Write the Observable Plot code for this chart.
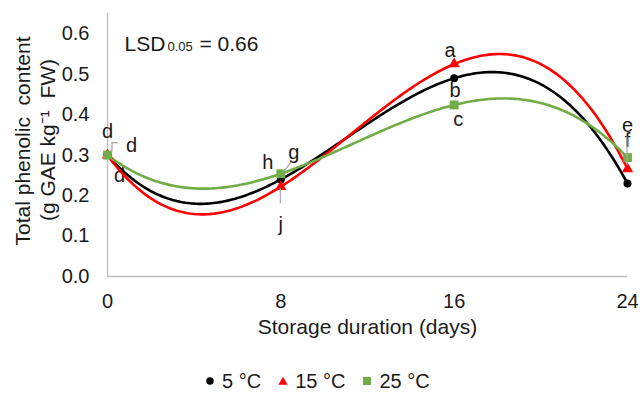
<!DOCTYPE html>
<html>
<head>
<meta charset="utf-8">
<script src="https://cdn.jsdelivr.net/npm/d3@7"></script>
<script src="https://cdn.jsdelivr.net/npm/@observablehq/plot@0.6"></script>
<style>
  html, body { margin: 0; padding: 0; background: #fff; }
  #wrap { position: relative; width: 641px; height: 394px; overflow: hidden; font-family: "Liberation Sans", Arial, sans-serif; color: #1a1a1a; }
  #legend { position: absolute; left: 205px; top: 369px; height: 24px; line-height: 24px; display: flex; align-items: center; font-size: 20px; white-space: nowrap; }
  #legend .item { display: flex; align-items: center; }
  #legend .item + .item { margin-left: 17px; }
  #legend svg { margin-right: 7px; display: block; }
</style>
</head>
<body>
<div id="wrap">
  <div id="chart"></div>
  <div id="legend"></div>
</div>
<script>
// ---- data ----
const days = [0, 8, 16, 24];
const seriesNames = ["5 °C", "15 °C", "25 °C"];
const v5 = [0.30, 0.24, 0.49, 0.23];
const v15 = [0.30, 0.222, 0.525, 0.266];
const v25 = [0.30, 0.254, 0.424, 0.294];
const letters5 = ["d", "g", "b", ""];
const letters15 = ["d", "j", "a", "f"];
const letters25 = ["d", "h", "c", "e"];
const yTicks = [0, 0.1, 0.2, 0.3, 0.4, 0.5, 0.6];
const lsdText = ["LSD", "0.05", "= 0.66"];
const yTitle = ["Total phenolic\u00a0 content", "(g GAE kg⁻¹\u00a0 FW)"];
const xTitle = "Storage duration (days)";

// ---- style / layout config ----
const colors = ["#000000", "#ff0000", "#70ad47"];
const symbols = ["circle", "triangle", "square"];
const radii = [4, 4.2, 5];
const labelOffsets = [
  [[24, -10], [13, -27], [1, 12], [0, 0]],
  [[12, 20], [0, 38], [-4, -13], [0, -28]],
  [[0, -24], [-13, -11], [4, 15], [0, -32]]
];
const leaders = [
  {s: 0, i: 0, pts: [[11, -12], [5, -12], [5, -3]]},
  {s: 0, i: 1, pts: [[11, -17], [3, -7]]},
  {s: 1, i: 1, pts: [[0, 17], [0, 2]]},
  {s: 1, i: 3, pts: [[0, -32], [0, -3]]}
];

const values = [v5, v15, v25];
const letters = [letters5, letters15, letters25];
const rows = values.map((vals, s) => days.map((d, i) => ({day: d, value: vals[i], series: seriesNames[s], label: letters[s][i]})));

// cubic polynomial trendline (Excel-style, order 3) drawn as a custom curve
function curvePoly(context) {
  let xs, ys;
  return {
    areaStart() {}, areaEnd() {},
    lineStart() { xs = []; ys = []; },
    point(x, y) { xs.push(+x); ys.push(+y); },
    lineEnd() {
      const n = xs.length;
      if (!n) return;
      const x0 = xs[0], x1 = xs[n - 1], N = 240;
      for (let k = 0; k <= N; k++) {
        const x = x0 + (x1 - x0) * k / N;
        let y = 0;
        for (let j = 0; j < n; j++) {
          let L = 1;
          for (let m = 0; m < n; m++) if (m !== j) L *= (x - xs[m]) / (xs[j] - xs[m]);
          y += L * ys[j];
        }
        if (k === 0) context.moveTo(x, y); else context.lineTo(x, y);
      }
    }
  };
}

const font = "'Liberation Sans', Arial, sans-serif";
const textColor = "#1a1a1a";

const labelMarks = [];
rows.forEach((r, s) => r.forEach((p, i) => {
  if (!p.label) return;
  labelMarks.push(Plot.text([p], {x: "day", y: "value", text: "label", dx: labelOffsets[s][i][0], dy: labelOffsets[s][i][1], fontSize: 20, fill: textColor}));
}));

const plot = Plot.plot({
  width: 641,
  height: 360,
  marginLeft: 107,
  marginRight: 14,
  marginTop: 13,
  marginBottom: 84,
  style: {fontFamily: font, fontSize: "20px", color: textColor, background: "white", overflow: "visible"},
  x: {domain: [0, 24]},
  y: {domain: [0, 0.65]},
  marks: [
    Plot.ruleX([0], {stroke: "#bfbfbf", strokeWidth: 1.3}),
    Plot.ruleY([0], {stroke: "#bfbfbf", strokeWidth: 1.3}),
    Plot.axisX({ticks: days, tickSize: 0, tickPadding: 17, tickFormat: d => String(d), label: null, fontSize: 20, fill: textColor}),
    Plot.axisY({ticks: yTicks, tickSize: 0, tickPadding: 18, tickFormat: d3.format(".1f"), label: null, fontSize: 20, fill: textColor}),
    Plot.text([yTitle[0]], {frameAnchor: "left", textAnchor: "middle", rotate: -90, dx: -84.5, dy: -4, fontSize: 21, fill: textColor}),
    Plot.text([yTitle[1]], {frameAnchor: "left", textAnchor: "middle", rotate: -90, dx: -59.5, dy: -5, fontSize: 21, fill: textColor}),
    Plot.text([xTitle], {frameAnchor: "bottom", dy: 57, fontSize: 21, fill: textColor}),
    Plot.text([lsdText[0]], {frameAnchor: "top-left", textAnchor: "start", dx: 17, dy: 22.3, fontSize: 21, fill: textColor}),
    Plot.text([lsdText[1]], {frameAnchor: "top-left", textAnchor: "start", dx: 60, dy: 27.8, fontSize: 13, fill: textColor}),
    Plot.text([lsdText[2]], {frameAnchor: "top-left", textAnchor: "start", dx: 92, dy: 22.3, fontSize: 21, fill: textColor}),
    ...labelMarks,
    ...rows.map((r, s) => Plot.line(r, {x: "day", y: "value", stroke: colors[s], strokeWidth: 2.6, curve: curvePoly})),
    ...rows.map((r, s) => Plot.dot(r, {x: "day", y: "value", symbol: symbols[s], r: radii[s], fill: colors[s], stroke: "none"}))
  ]
});

document.getElementById("chart").appendChild(plot);

// leader lines for moved data labels, positioned through the plot's scales
const sx = plot.scale("x"), sy = plot.scale("y");
const svg = d3.select(plot);
leaders.forEach(L => {
  const px = sx.apply(days[L.i]), py = sy.apply(values[L.s][L.i]);
  svg.append("polyline")
    .attr("points", L.pts.map(([dx, dy]) => `${px + dx},${py + dy}`).join(" "))
    .attr("fill", "none").attr("stroke", "#a6a6a6").attr("stroke-width", 1.2);
});

// legend
const legend = d3.select("#legend");
seriesNames.forEach((name, s) => {
  const item = legend.append("div").attr("class", "item");
  const g = item.append("svg").attr("width", 10).attr("height", 12);
  const sym = d3.symbol().type([d3.symbolCircle, d3.symbolTriangle, d3.symbolSquare][s]).size([44, 36, 64][s]);
  g.append("path").attr("d", sym()).attr("transform", s === 1 ? "translate(5,7)" : "translate(5,6)").attr("fill", colors[s]);
  item.append("span").text(name);
});
</script>
</body>
</html>
